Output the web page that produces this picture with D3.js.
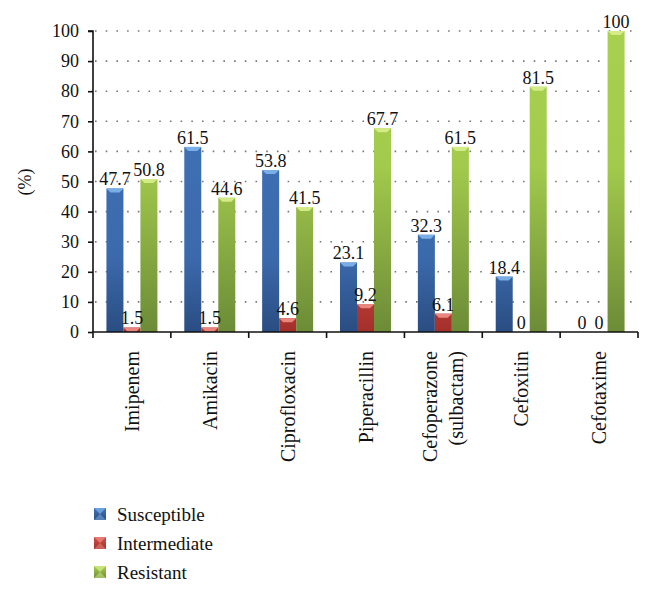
<!DOCTYPE html>
<html>
<head>
<meta charset="utf-8">
<script src="https://cdn.jsdelivr.net/npm/d3@7"></script>
<style>
  html, body { margin: 0; padding: 0; background: #fff; }
  svg { display: block; }
  svg text { fill: #111; }
</style>
</head>
<body>
<svg id="chart" width="653" height="589"></svg>
<script>
// ---- data ----
const categories = ["Imipenem", "Amikacin", "Ciprofloxacin", "Piperacillin", "Cefoperazone\n(sulbactam)", "Cefoxitin", "Cefotaxime"];
const seriesNames = ["Susceptible", "Intermediate", "Resistant"];
const susceptible  = [47.7, 61.5, 53.8, 23.1, 32.3, 18.4, 0];
const intermediate = [1.5, 1.5, 4.6, 9.2, 6.1, 0, 0];
const resistant    = [50.8, 44.6, 41.5, 67.7, 61.5, 81.5, 100];
const yTicks = [0, 10, 20, 30, 40, 50, 60, 70, 80, 90, 100];
const yTitle = "(%)";

const seriesValues = [susceptible, intermediate, resistant];

(function () {
const FONT = '"Liberation Serif", "DejaVu Serif", "Times New Roman", serif';
const svg = d3.select("#chart");
const W = 653, H = 589;
svg.append("rect").attr("width", W).attr("height", H).attr("fill", "#fff");

const mLeft = 93, mRight = 638, mTop = 31, mBottom = 332;

const x0 = d3.scaleBand().domain(categories).range([mLeft, mRight]).padding(0);
const x1 = d3.scaleBand().domain(seriesNames).range([0, x0.bandwidth()]).paddingInner(0).paddingOuter(0.79);
const y = d3.scaleLinear().domain([0, 100]).range([mBottom, mTop]);

// gradients
const defs = svg.append("defs");
const grads = {
  Susceptible: [["0%", "#4276bb"], ["75%", "#3b6aac"], ["100%", "#2a4d82"]],
  Intermediate: [["0%", "#d4504a"], ["80%", "#c6403a"], ["100%", "#a3302b"]],
  Resistant: [["0%", "#a9d150"], ["45%", "#a2ca4c"], ["100%", "#6c8b37"]]
};
const caps = { Susceptible: "#7fb6ec", Intermediate: "#f08f86", Resistant: "#d9f08c" };
seriesNames.forEach((s, i) => {
  const g = defs.append("linearGradient").attr("id", "g" + i)
    .attr("gradientUnits", "userSpaceOnUse")
    .attr("x1", 0).attr("x2", 0).attr("y1", y(100)).attr("y2", y(0));
  grads[s].forEach(([o, c]) => g.append("stop").attr("offset", o).attr("stop-color", c));
  const lg = defs.append("linearGradient").attr("id", "lg" + i)
    .attr("x1", 0).attr("x2", 0).attr("y1", 0).attr("y2", 1);
  lg.append("stop").attr("offset", "0%").attr("stop-color", grads[s][0][1]);
  lg.append("stop").attr("offset", "100%").attr("stop-color", grads[s][2][1]);
});

// gridlines
svg.append("g").selectAll("line").data(yTicks.filter(d => d > 0)).join("line")
  .attr("x1", mLeft + 2).attr("x2", mRight + 2)
  .attr("y1", d => y(d)).attr("y2", d => y(d))
  .attr("stroke", "#777").attr("stroke-width", 1.6)
  .attr("stroke-dasharray", "1.6,9.1");

// bars
const rows = [];
categories.forEach((c, ci) => {
  seriesNames.forEach((s, si) => rows.push({ c, s, si, v: seriesValues[si][ci] }));
});

const barG = svg.append("g");
barG.selectAll("rect").data(rows.filter(d => d.v > 0)).join("rect")
  .attr("x", d => x0(d.c) + x1(d.s))
  .attr("y", d => y(d.v))
  .attr("width", x1.bandwidth())
  .attr("height", d => y(0) - y(d.v))
  .attr("fill", d => "url(#g" + d.si + ")");

barG.selectAll("path.cap").data(rows.filter(d => d.v > 0)).join("path")
  .attr("class", "cap")
  .attr("d", d => {
    const bx = x0(d.c) + x1(d.s), bw = x1.bandwidth(), by = y(d.v);
    const h = Math.min(4, y(0) - by);
    return `M${bx},${by}L${bx + bw},${by}L${bx + bw - 4},${by + h}L${bx + 4},${by + h}Z`;
  })
  .attr("fill", d => caps[d.s]).attr("opacity", 0.9);

// value labels
svg.append("g").selectAll("text").data(rows).join("text")
  .attr("x", d => x0(d.c) + x1(d.s) + x1.bandwidth() / 2)
  .attr("y", d => y(d.v) - 3)
  .attr("text-anchor", "middle")
  .attr("font-family", FONT)
  .attr("font-size", 18)
  .text(d => d.v);

// y axis
const yAxis = svg.append("g").attr("transform", `translate(${mLeft},0)`)
  .call(d3.axisLeft(y).tickValues(yTicks).tickSize(5).tickPadding(9).tickFormat(d3.format("d")))
  .attr("font-family", FONT).attr("font-size", 18);
yAxis.select(".domain").attr("stroke", "#111").attr("stroke-width", 1.6).attr("d", `M-5,${y(100)}H0V${y(0)}`);
yAxis.selectAll(".tick line").attr("stroke", "#111").attr("stroke-width", 1.6);
yAxis.selectAll(".tick text").attr("fill", "#111");

// x axis line and ticks at band boundaries
const bounds = categories.map(c => x0(c)).concat([mRight]);
svg.append("line").attr("x1", mLeft).attr("x2", mRight).attr("y1", y(0)).attr("y2", y(0))
  .attr("stroke", "#111").attr("stroke-width", 1.6);
svg.append("g").selectAll("line").data(bounds).join("line")
  .attr("x1", d => d).attr("x2", d => d).attr("y1", y(0)).attr("y2", y(0) + 6)
  .attr("stroke", "#111").attr("stroke-width", 1.6);

// x labels (rotated)
const xl = svg.append("g");
categories.forEach(c => {
  const lines = c.split("\n");
  const cx = x0(c) + x0.bandwidth() / 2;
  lines.forEach((ln, i) => {
    const off = (i - (lines.length - 1) / 2) * 26;
    xl.append("text")
      .attr("transform", `translate(${cx + off},${y(0) + 19}) rotate(-90)`)
      .attr("text-anchor", "end")
      .attr("dy", "0.35em")
      .attr("font-family", FONT)
      .attr("font-size", 20)
      .text(ln);
  });
});

// y title
svg.append("text")
  .attr("transform", `translate(25,182) rotate(-90)`)
  .attr("text-anchor", "middle").attr("dy", "0.35em")
  .attr("font-family", FONT)
  .attr("font-size", 18)
  .text(yTitle);

// legend
const lgG = svg.append("g").attr("transform", "translate(94,508)");
seriesNames.forEach((s, i) => {
  const g = lgG.append("g").attr("transform", `translate(0,${i * 29})`);
  g.append("rect").attr("width", 12).attr("height", 12).attr("fill", "url(#lg" + i + ")");
  g.append("path").attr("d", "M0,0L12,0L6,6Z").attr("fill", caps[s]).attr("opacity", 0.7);
  g.append("path").attr("d", "M0,12L12,12L6,6Z").attr("fill", caps[s]).attr("opacity", 0.5);
  g.append("text").attr("x", 23).attr("y", 6).attr("dy", "0.35em")
    .attr("font-family", FONT).attr("font-size", 19).text(s);
});
})();
</script>
</body>
</html>
